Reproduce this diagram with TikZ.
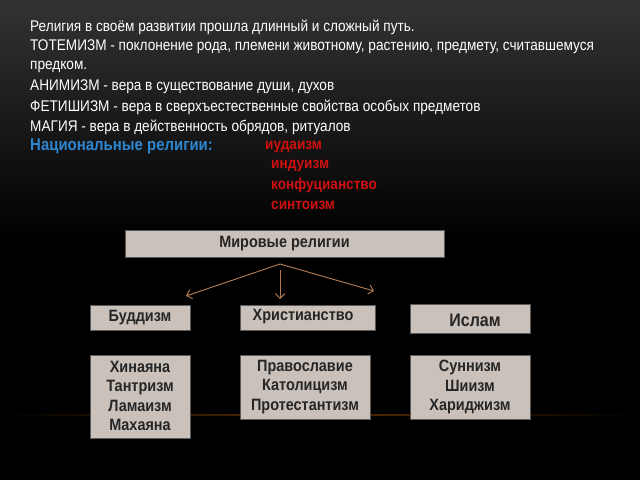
\documentclass[tikz,border=0pt]{standalone}
\usepackage{fontspec}
\setmainfont[FakeStretch=0.88]{Liberation Sans}
\usetikzlibrary{shadings,arrows.meta}
\definecolor{boxgray}{HTML}{C9C1BA}
\definecolor{arrowbrown}{HTML}{B07A55}
\definecolor{natblue}{HTML}{2E86D0}
\definecolor{relred}{HTML}{D01010}
\tikzset{
  religbox/.style={draw=gray!70!black,fill=boxgray,inner sep=0pt},
  boxtext/.style={font=\fontsize{14}{16.5}\selectfont\bfseries,text=black!85,align=center},
  line/.style={anchor=west,text=white,inner sep=0pt,font=\fontsize{13.2}{14}\selectfont},
  redline/.style={anchor=west,text=relred,inner sep=0pt,font=\fontsize{13.2}{14}\selectfont\bfseries}
}
\begin{document}
\begin{tikzpicture}[x=0.03cm,y=-0.03cm]
\useasboundingbox (0,0) rectangle (640,480);
\shade[top color=black!80,bottom color=black] (0,0) rectangle (640,240);
\fill[black] (0,240) rectangle (640,480);
\shade[left color=black,right color=black,middle color=orange!35!black] (0,414) rectangle (640,415.5);

% text block
\node[line] (l1) at (30,27) {Религия в своём развитии прошла длинный и сложный путь.};
\node[line] (l2) at (30,47) {ТОТЕМИЗМ - поклонение рода, племени животному, растению, предмету, считавшемуся};
\node[line] (l3) at (30,67) {предком.};
\node[line] (l4) at (30,87) {АНИМИЗМ - вера в существование души, духов};
\node[line] (l5) at (30,107) {ФЕТИШИЗМ - вера в сверхъестественные свойства особых предметов};
\node[line] (l6) at (30,127) {МАГИЯ - вера в действенность обрядов, ритуалов};
\node[line,text=natblue,font=\fontsize{14.5}{16}\selectfont\bfseries] (nat) at (30,146) {Национальные религии:};
\node[redline] (r1) at (265,147) {иудаизм};
\node[redline] (r2) at (271,166) {индуизм};
\node[redline] (r3) at (271,186) {конфуцианство};
\node[redline] (r4) at (271,205) {синтоизм};

% boxes
\draw[religbox] (125,230) rectangle (444,257);
\node[boxtext] (world) at (284.5,244) {Мировые религии};
\draw[religbox] (90,305) rectangle (190,330);
\node[boxtext] (budd) at (140,318) {Буддизм};
\draw[religbox] (240,305) rectangle (375,330);
\node[boxtext] (chr) at (303,317) {Христианство};
\draw[religbox] (410,304) rectangle (530,333);
\node[boxtext,font=\fontsize{15.5}{17}\selectfont\bfseries] (isl) at (475,320) {Ислам};
\draw[religbox] (90,355) rectangle (190,438);
\node[boxtext] (buddsub) at (140,396) {Хинаяна\\Тантризм\\Ламаизм\\Махаяна};
\draw[religbox] (240,355) rectangle (370,419);
\node[boxtext] (chrsub) at (305,387) {Православие\\Католицизм\\Протестантизм};
\draw[religbox] (410,355) rectangle (530,419);
\node[boxtext] (islsub) at (470,387) {Суннизм\\Шиизм\\Хариджизм};

% arrows
\coordinate (top) at (280,264);
\coordinate (topc) at (280,270);
\coordinate (ab) at (186,296);
\coordinate (ac) at (280,299);
\coordinate (ai) at (374,291);
\tikzset{relarrow/.style={arrowbrown,thick,-{Straight Barb[length=4pt,width=8pt]}}}
\draw[relarrow] (top) -- (ab);
\draw[relarrow] (topc) -- (ac);
\draw[relarrow] (top) -- (ai);
\end{tikzpicture}
\end{document}
